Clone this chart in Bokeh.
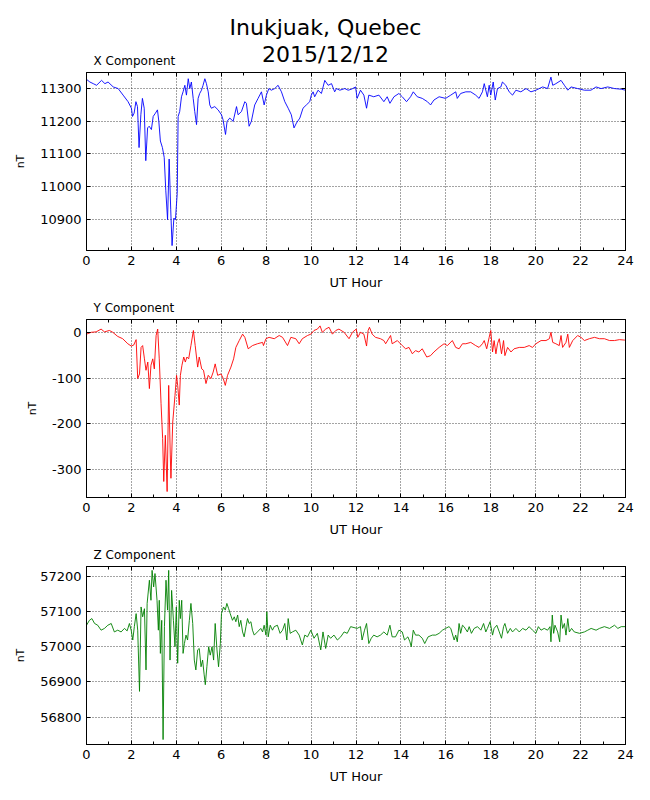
from bokeh.plotting import figure
from bokeh.models import Range1d, FixedTicker, LinearAxis, Label
from bokeh.layouts import column
from bokeh.embed import file_html
from bokeh.resources import INLINE

FONT = "DejaVu Sans"

station_title = "Inukjuak, Quebec"
date_title = "2015/12/12"
panel_titles = ["X Component", "Y Component", "Z Component"]
x_label = "UT Hour"
y_label = "nT"

hour_ticks = list(range(0, 25, 2))
hour_minor_ticks = list(range(1, 24, 2))

# ---- X component (nT) ----
x_hours = [0.00, 0.15, 0.30, 0.45, 0.67, 0.82, 0.96, 1.19, 1.41, 1.63,
           1.85, 2.00, 2.05, 2.12, 2.20, 2.27, 2.34, 2.42, 2.49, 2.57,
           2.64, 2.72, 2.79, 2.89, 2.97, 3.07, 3.16, 3.22, 3.29, 3.38,
           3.46, 3.53, 3.61, 3.68, 3.75, 3.81, 3.89, 3.96, 4.04, 4.08,
           4.15, 4.23, 4.30, 4.38, 4.45, 4.53, 4.60, 4.67, 4.75, 4.82,
           4.90, 4.97, 5.04, 5.12, 5.19, 5.27, 5.34, 5.42, 5.49, 5.56,
           5.71, 5.86, 6.01, 6.08, 6.19, 6.26, 6.38, 6.53, 6.68, 6.75,
           6.90, 7.05, 7.12, 7.24, 7.34, 7.49, 7.64, 7.79, 7.91, 8.01,
           8.12, 8.23, 8.38, 8.53, 8.68, 8.83, 8.98, 9.12, 9.24, 9.35,
           9.50, 9.64, 9.79, 9.94, 10.01, 10.09, 10.16, 10.31, 10.46, 10.61,
           10.76, 10.91, 11.05, 11.13, 11.28, 11.50, 11.65, 11.80,
           11.98, 12.05, 12.20, 12.35, 12.47, 12.57, 12.79, 13.02, 13.24, 13.39,
           13.51, 13.69, 13.91, 14.06, 14.25, 14.43, 14.55, 14.73, 14.95, 15.18,
           15.32, 15.47, 15.70, 15.99, 16.22, 16.44, 16.51, 16.66, 16.89, 17.11,
           17.33, 17.48, 17.63, 17.71, 17.85, 17.93, 18.00, 18.11, 18.20, 18.30,
           18.45, 18.52, 18.67, 18.82, 18.97, 19.12, 19.34, 19.57, 19.79, 20.01,
           20.31, 20.53, 20.68, 20.76, 20.90, 21.13, 21.28, 21.43, 21.57, 21.87,
           22.17, 22.46, 22.69, 22.91, 23.21, 23.51, 23.81, 24.00]
x_values = [11327, 11319, 11314, 11309, 11324, 11314, 11319, 11304, 11299, 11279,
            11259, 11239, 11214, 11224, 11259, 11244, 11119, 11219, 11269, 11239,
            11079, 11179, 11184, 11174, 11214, 11224, 11234, 11199, 11139, 11119,
            11089, 10989, 10899, 11084, 10929, 10820, 10904, 10899, 10979, 11214,
            11229, 11274, 11289, 11309, 11279, 11329, 11299, 11319, 11269, 11229,
            11189, 11269, 11284, 11294, 11309, 11329, 11314, 11289, 11249, 11239,
            11244, 11234, 11219, 11204, 11159, 11199, 11209, 11199, 11244, 11219,
            11229, 11259, 11254, 11184, 11199, 11249, 11269, 11289, 11249, 11279,
            11299, 11294, 11299, 11309, 11289, 11259, 11239, 11219, 11179, 11194,
            11209, 11239, 11249, 11259, 11279, 11289, 11274, 11294, 11284, 11324,
            11309, 11314, 11289, 11299, 11294, 11299, 11294, 11297,
            11304, 11269, 11294, 11279, 11239, 11279, 11274, 11279, 11259, 11274,
            11254, 11274, 11284, 11274, 11259, 11274, 11289, 11274, 11269, 11259,
            11249, 11264, 11274, 11269, 11279, 11289, 11269, 11284, 11289, 11289,
            11279, 11269, 11289, 11314, 11274, 11309, 11279, 11319, 11264, 11299,
            11304, 11319, 11309, 11289, 11279, 11294, 11289, 11299, 11289, 11294,
            11304, 11299, 11334, 11309, 11314, 11324, 11309, 11294, 11304, 11299,
            11294, 11294, 11304, 11299, 11304, 11299, 11297, 11294]
x_ticks = [10900, 11000, 11100, 11200, 11300]

# ---- Y component (nT) ----
y_hours = [0.00, 0.21, 0.43, 0.65, 0.80, 1.02, 1.17, 1.39, 1.61, 1.84,
           1.99, 2.10, 2.21, 2.28, 2.36, 2.43, 2.50, 2.58, 2.65, 2.73,
           2.80, 2.87, 2.95, 3.02, 3.10, 3.17, 3.24, 3.32, 3.39, 3.44,
           3.51, 3.59, 3.66, 3.73, 3.76, 3.84, 3.94, 4.01, 4.06, 4.13,
           4.18, 4.25, 4.33, 4.40, 4.47, 4.55, 4.65, 4.76, 4.84, 4.95,
           5.02, 5.13, 5.21, 5.32, 5.42, 5.54, 5.64, 5.73, 5.84, 5.99,
           6.09, 6.18, 6.28, 6.43, 6.55, 6.65, 6.80, 6.95, 7.05, 7.20,
           7.39, 7.61, 7.84, 7.88, 7.99, 8.13, 8.36, 8.58, 8.73, 8.95,
           9.10, 9.32, 9.47, 9.61, 9.84, 9.99, 10.13, 10.28, 10.40, 10.50,
           10.65, 10.80, 10.95, 11.10, 11.24, 11.47, 11.69, 11.84,
           12.01, 12.08, 12.20, 12.35, 12.47, 12.54, 12.60, 12.72, 12.87, 13.09,
           13.24, 13.32, 13.54, 13.61, 13.84, 14.06, 14.21, 14.36, 14.51, 14.65,
           14.80, 14.95, 15.15, 15.32, 15.47, 15.70, 15.92, 16.07, 16.29, 16.44,
           16.59, 16.74, 16.89, 17.11, 17.33, 17.48, 17.63, 17.71, 17.82, 17.93,
           18.00, 18.08, 18.15, 18.23, 18.30, 18.38, 18.48, 18.57, 18.63, 18.75,
           18.90, 19.04, 19.27, 19.49, 19.71, 19.86, 20.01, 20.24, 20.46, 20.61,
           20.68, 20.76, 20.90, 21.05, 21.13, 21.20, 21.35, 21.43, 21.50, 21.65,
           21.87, 22.02, 22.17, 22.39, 22.62, 22.84, 23.06, 23.29, 23.51, 23.73,
           23.96, 24.00]
y_values = [-4, 0, 1, 7, 1, 4, 0, -9, -14, -25,
            -30, -28, -16, -101, -91, -33, -29, -58, -83, -65,
            -123, -72, -58, -80, -7, 7, -58, -156, -232, -326,
            -225, -348, -116, -268, -319, -196, -138, -94, -116, -159,
            -94, -72, -54, -65, -54, -58, -29, 4, -29, -76,
            -54, -80, -83, -112, -94, -101, -87, -69, -94, -91,
            -101, -116, -94, -76, -58, -33, -18, -4, -11, -36,
            -29, -25, -22, -29, -14, -11, -14, -7, -11, -29,
            -11, -14, -25, -14, -7, -4, 4, 7, 14, 0,
            7, 11, -4, 4, 7, 0, -14, 0,
            7, -11, 0, -4, -30, 4, 11, -4, -11, -14,
            -18, -25, -7, -25, -18, -29, -36, -33, -47, -40,
            -43, -36, -54, -51, -43, -33, -25, -29, -18, -33,
            -36, -25, -25, -22, -29, -33, -25, -18, -36, -11,
            4, -43, -18, -47, -25, -14, -47, -18, -51, -33,
            -43, -36, -33, -33, -29, -33, -25, -18, -18, -14,
            0, -22, -25, -29, -7, -33, -22, -4, -33, -18,
            -7, -11, -18, -14, -11, -14, -14, -18, -18, -16,
            -17, -17]
y_ticks = [-300, -200, -100, 0]

# ---- Z component (nT) ----
z_hours = [0.00, 0.13, 0.24, 0.36, 0.50, 0.65, 0.80, 0.95, 1.10, 1.24,
           1.39, 1.54, 1.69, 1.81, 1.91, 1.99, 2.06, 2.13, 2.21, 2.28,
           2.36, 2.43, 2.50, 2.58, 2.65, 2.70, 2.80, 2.87, 2.92, 2.99,
           3.05, 3.14, 3.20, 3.24, 3.29, 3.35, 3.41, 3.47, 3.54, 3.61,
           3.66, 3.72, 3.79, 3.87, 3.94, 4.00, 4.06, 4.13, 4.18, 4.24,
           4.30, 4.36, 4.43, 4.50, 4.58, 4.65, 4.73, 4.80, 4.87, 4.95,
           5.02, 5.10, 5.17, 5.24, 5.29, 5.36, 5.44, 5.51, 5.59, 5.66,
           5.73, 5.81, 5.88, 5.96, 6.01, 6.10, 6.18, 6.25, 6.33, 6.40,
           6.50, 6.58, 6.65, 6.73, 6.80, 6.87, 6.95, 7.02, 7.10, 7.17,
           7.24, 7.32, 7.39, 7.47, 7.61, 7.76, 7.84, 7.91, 7.99, 8.03,
           8.09, 8.18, 8.28, 8.36, 8.50, 8.62, 8.73, 8.83, 8.92, 8.98,
           9.07, 9.17, 9.32, 9.47, 9.61, 9.72, 9.84, 9.99, 10.13, 10.28,
           10.43, 10.53, 10.65, 10.76, 10.87, 11.02, 11.17, 11.32, 11.47, 11.61,
           11.76,
           12.05, 12.20, 12.27, 12.38, 12.47, 12.57, 12.68, 12.79, 12.94, 13.09,
           13.24, 13.39, 13.51, 13.61, 13.76, 13.91, 14.06, 14.16, 14.31, 14.40,
           14.46, 14.55, 14.65, 14.80, 14.95, 15.06, 15.21, 15.40, 15.55, 15.70,
           15.85, 15.99, 16.14, 16.22, 16.37, 16.44, 16.51, 16.59, 16.66, 16.74,
           16.81, 16.96, 17.04, 17.14, 17.26, 17.41, 17.56, 17.68, 17.78, 17.85,
           17.97, 18.08, 18.15, 18.27, 18.38, 18.48, 18.57, 18.63, 18.75, 18.87,
           18.97, 19.12, 19.27, 19.42, 19.57, 19.71, 19.86, 20.01, 20.12, 20.24,
           20.38, 20.53, 20.64, 20.68, 20.74, 20.80, 20.86, 20.98, 21.07, 21.13,
           21.20, 21.28, 21.35, 21.43, 21.50, 21.60, 21.72, 21.95, 22.17, 22.32,
           22.47, 22.69, 22.84, 23.06, 23.29, 23.51, 23.66, 23.81, 24.00]
z_values = [57061, 57075, 57080, 57066, 57061, 57047, 57052, 57061, 57066, 57042,
            57047, 57042, 57052, 57045, 57066, 57047, 57019, 57057, 57094, 57047,
            56873, 57113, 57085, 57108, 56934, 57123, 57189, 57132, 57217, 57170,
            57208, 57132, 57047, 57132, 56981, 57075, 56736, 57057, 57189, 57104,
            57217, 56962, 57160, 57075, 57000, 57113, 56953, 57132, 57080, 57132,
            56981, 57009, 57033, 57019, 57075, 57123, 57066, 56962, 56934, 56991,
            56995, 56943, 56962, 56920, 56892, 56943, 57000, 56976, 57000, 56962,
            57066, 56991, 56943, 57009, 57094, 57113, 57104, 57123, 57108, 57094,
            57075, 57085, 57071, 57090, 57057, 57075, 57042, 57028, 57057, 57080,
            57066, 57071, 57047, 57033, 57042, 57052, 57042, 57061, 57033, 57099,
            57028, 57061, 57047, 57057, 57061, 57038, 57047, 57066, 57019, 57080,
            57038, 57042, 57047, 57033, 57005, 57033, 57028, 57047, 57024, 57038,
            56991, 57042, 56995, 57033, 57024, 57033, 57019, 57028, 57042, 57038,
            57057,
            57052, 57057, 57019, 57047, 57066, 57009, 57024, 57033, 57028, 57033,
            57042, 57033, 57061, 57028, 57028, 57047, 57042, 57019, 57028, 57014,
            57000, 57047, 57033, 57033, 57024, 57009, 57028, 57033, 57033, 57038,
            57047, 57052, 57057, 57052, 57019, 57033, 57014, 57066, 57038, 57061,
            57057, 57042, 57057, 57038, 57052, 57057, 57047, 57066, 57042, 57052,
            57071, 57033, 57052, 57061, 57042, 57024, 57057, 57066, 57038, 57052,
            57042, 57052, 57042, 57052, 57047, 57057, 57047, 57038, 57057, 57047,
            57052, 57047, 57057, 57014, 57090, 57038, 57061, 57042, 57014, 57090,
            57052, 57066, 57033, 57080, 57042, 57052, 57042, 57038, 57042, 57047,
            57052, 57047, 57052, 57057, 57052, 57061, 57052, 57057, 57057]
z_ticks = [56800, 56900, 57000, 57100, 57200]

WIDTH = 642
LEFT = 86
RIGHT = 17
FRAME_H = 178


def make_header(height, labels):
    h = figure(width=WIDTH, height=height, x_range=Range1d(0, 1), y_range=Range1d(0, 1),
               output_backend="svg", toolbar_location=None, title=None,
               x_axis_location=None, y_axis_location=None,
               min_border=0, min_border_left=0, min_border_right=0,
               min_border_top=0, min_border_bottom=0)
    h.grid.visible = False
    h.outline_line_color = None
    h.background_fill_color = "white"
    h.border_fill_color = "white"
    for text, sx, sy, size, align in labels:
        h.add_layout(Label(x=sx, y=sy, x_units="screen", y_units="screen",
                           text=text, text_font=FONT, text_font_size=size,
                           text_color="black", text_align=align,
                           text_baseline="alphabetic"))
    return h


def make_panel(hours, values, color, y_lo, y_hi, yticks, border_bottom):
    p = figure(width=WIDTH, height=FRAME_H + border_bottom,
               x_range=Range1d(0, 24), y_range=Range1d(y_lo, y_hi),
               output_backend="svg", toolbar_location=None, title=None,
               min_border_left=LEFT, min_border_right=RIGHT,
               min_border_top=0, min_border_bottom=border_bottom)
    p.background_fill_color = "white"
    p.border_fill_color = "white"
    p.outline_line_color = "black"
    p.outline_line_width = 1

    bx = p.below[0]
    ly = p.left[0]

    xt = FixedTicker(ticks=hour_ticks, minor_ticks=hour_minor_ticks)
    yt = FixedTicker(ticks=yticks, minor_ticks=[])

    top_axis = LinearAxis(ticker=xt)
    right_axis = LinearAxis(ticker=yt)
    p.add_layout(top_axis, "above")
    p.add_layout(right_axis, "right")
    bx.ticker = xt
    ly.ticker = yt

    for ax in (bx, ly, top_axis, right_axis):
        ax.axis_line_color = "black"
        ax.axis_line_width = 1
        ax.major_tick_line_color = "black"
        ax.major_tick_in = 4
        ax.major_tick_out = 0
        ax.minor_tick_line_color = "black"
        ax.minor_tick_in = 3
        ax.minor_tick_out = 0
        ax.major_label_text_font = FONT
        ax.major_label_text_font_size = "13px"
        ax.major_label_text_color = "black"
        ax.axis_label_text_font = FONT
        ax.axis_label_text_font_style = "normal"
        ax.axis_label_text_color = "black"

    for ax in (top_axis, right_axis):
        ax.major_label_text_color = None
        ax.major_label_text_font_size = "0px"
        ax.major_label_standoff = 0

    bx.axis_label = x_label
    bx.axis_label_text_font_size = "13px"
    bx.major_label_standoff = 5
    bx.axis_label_standoff = 7

    ly.axis_label = y_label
    ly.axis_label_text_font_size = "11px"
    ly.major_label_standoff = 5
    ly.axis_label_standoff = 10
    ly.major_label_overrides = {v: str(v) for v in yticks}

    p.xgrid.ticker = xt
    p.ygrid.ticker = yt
    for g in (p.xgrid, p.ygrid):
        g.grid_line_color = "black"
        g.grid_line_width = 0.8
        g.grid_line_dash = "1 2"
        g.grid_line_alpha = 0.9

    p.line(hours, values, line_color=color, line_width=0.9)
    return p


# header label positions are measured from the left / bottom of each header frame
h1 = make_header(72, [(station_title, 239, 45, "22px", "center"),
                      (date_title, 239, 18, "22px", "center"),
                      (panel_titles[0], 7, 12, "12px", "left")])
p1 = make_panel(x_hours, x_values, "#0000ff", 10805, 11348, x_ticks, 47)
h2 = make_header(22, [(panel_titles[1], 7, 12, "12px", "left")])
p2 = make_panel(y_hours, y_values, "#ff0000", -361, 28, y_ticks, 47)
h3 = make_header(22, [(panel_titles[2], 7, 12, "12px", "left")])
p3 = make_panel(z_hours, z_values, "#008000", 56722, 57228, z_ticks, 45)

layout = column(h1, p1, h2, p2, h3, p3, spacing=0)

open("out.html", "w").write(file_html(layout, INLINE))
